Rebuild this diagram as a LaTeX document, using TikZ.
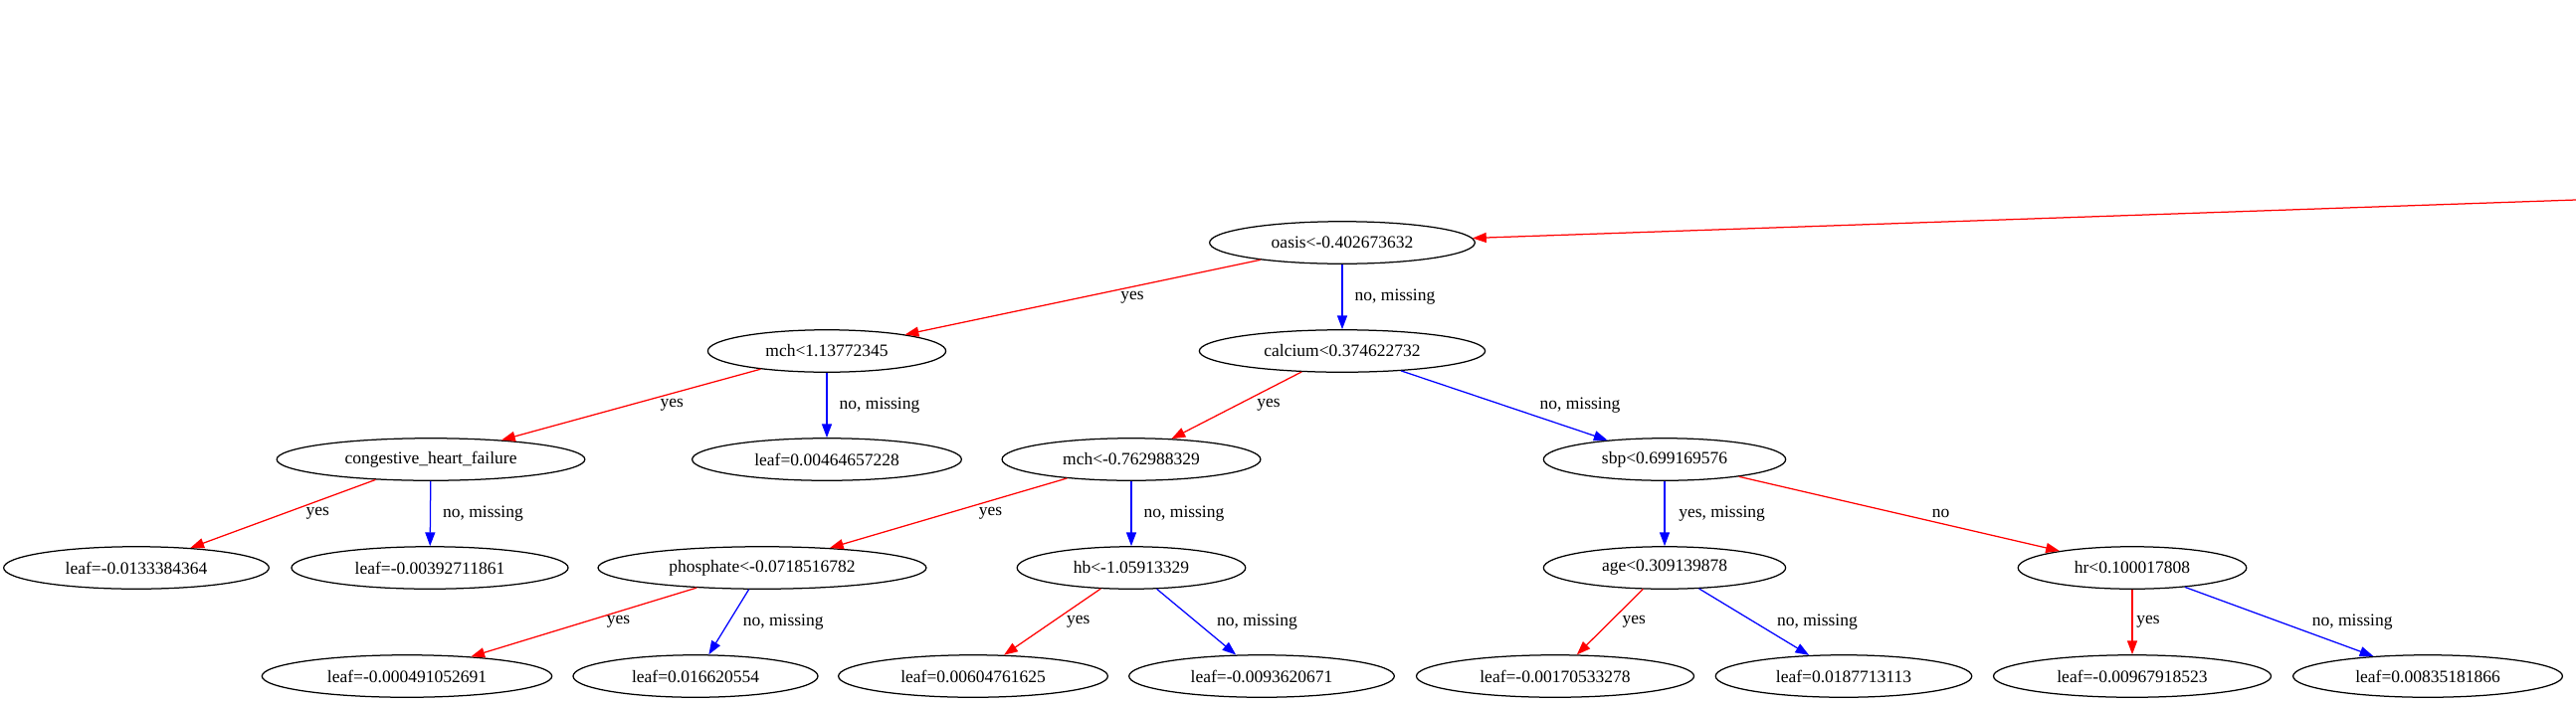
\documentclass[tikz,border=0pt]{standalone}
\usepackage{fontspec}
\setmainfont{Liberation Serif}
\usetikzlibrary{shapes.geometric, arrows.meta}
\definecolor{cus-red}{RGB}{255,0,0}
\definecolor{cus-blue}{RGB}{0,0,255}

\begin{document}
\begin{tikzpicture}[x = .8pt, y = -.8pt,
	split/.style = {draw , ellipse, line width=1pt, inner xsep=18.4pt, inner ysep=0pt, minimum height=34pt, font=\fontsize{14}{16}\selectfont},
	yesedge/.style = {draw=cus-red, line width=1pt, -{Triangle[length=11pt,width=8pt]}},
	noedge/.style = {draw=cus-blue, line width=1pt, -{Triangle[length=11pt,width=8pt]}},
	lbl/.style = {anchor=west, inner sep=0pt, midway, font=\fontsize{14}{16}\selectfont}]
\useasboundingbox (0,0) rectangle (2589,708);

% splits and leaves
\node [split] (oasis) at (1349,244) {oasis<-0.402673632};
\node [split] (mch) at (831,353) {mch<1.13772345};
\node [split] (calcium) at (1349,353) {calcium<0.374622732};
\node [split] (chf) at (433,462) {congestive\_heart\_failure};
\node [split] (leafc) at (831,462) {leaf=0.00464657228};
\node [split] (mchb) at (1137,462) {mch<-0.762988329};
\node [split] (sbp) at (1673,462) {sbp<0.699169576};
\node [split] (leafa) at (137,571) {leaf=-0.0133384364};
\node [split] (leafb) at (432,571) {leaf=-0.00392711861};
\node [split] (phosphate) at (766,571) {phosphate<-0.0718516782};
\node [split] (hb) at (1137,571) {hb<-1.05913329};
\node [split] (age) at (1673,571) {age<0.309139878};
\node [split] (hr) at (2143,571) {hr<0.100017808};
\node [split] (leafd) at (409,680) {leaf=-0.000491052691};
\node [split] (leafe) at (699,680) {leaf=0.016620554};
\node [split] (leaff) at (978,680) {leaf=0.00604761625};
\node [split] (leafg) at (1268,680) {leaf=-0.0093620671};
\node [split] (leafh) at (1563,680) {leaf=-0.00170533278};
\node [split] (leafi) at (1853,680) {leaf=0.0187713113};
\node [split] (leafj) at (2143,680) {leaf=-0.00967918523};
\node [split] (leafk) at (2440,680) {leaf=0.00835181866};
\coordinate (top) at (2589,201);

% edges
\draw [yesedge] (top) -- (oasis);
\draw [yesedge] (oasis) -- node [lbl, xshift=30pt] {yes} (mch);
\draw [noedge] (oasis) -- node [lbl, xshift=9.6pt] {no, missing} (calcium);
\draw [yesedge] (mch) -- node [lbl, xshift=23pt] {yes} (chf);
\draw [noedge] (mch) -- node [lbl, xshift=9.6pt] {no, missing} (leafc);
\draw [yesedge] (calcium) -- node [lbl, xshift=16pt] {yes} (mchb);
\draw [noedge] (calcium) -- node [lbl, xshift=28pt] {no, missing} (sbp);
\draw [yesedge] (chf) -- node [lbl, xshift=18pt] {yes} (leafa);
\draw [noedge] (chf) -- node [lbl, xshift=9.6pt] {no, missing} (leafb);
\draw [yesedge] (mchb) -- node [lbl, xshift=24pt] {yes} (phosphate);
\draw [noedge] (mchb) -- node [lbl, xshift=9.6pt] {no, missing} (hb);
\draw [noedge] (sbp) -- node [lbl, xshift=11pt] {yes, missing} (age);
\draw [yesedge] (sbp) -- node [lbl, xshift=26pt] {no} (hr);
\draw [yesedge] (phosphate) -- node [lbl, xshift=18pt] {yes} (leafd);
\draw [noedge] (phosphate) -- node [lbl, xshift=11pt] {no, missing} (leafe);
\draw [yesedge] (hb) -- node [lbl, xshift=11pt] {yes} (leaff);
\draw [noedge] (hb) -- node [lbl, xshift=16pt] {no, missing} (leafg);
\draw [yesedge] (age) -- node [lbl, xshift=9.6pt] {yes} (leafh);
\draw [noedge] (age) -- node [lbl, xshift=18pt] {no, missing} (leafi);
\draw [yesedge] (hr) -- node [lbl, xshift=3pt] {yes} (leafj);
\draw [noedge] (hr) -- node [lbl, xshift=26pt] {no, missing} (leafk);
\end{tikzpicture}
\end{document}
